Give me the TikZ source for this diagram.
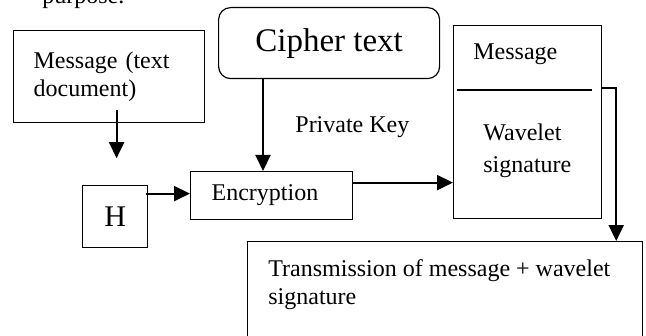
\documentclass[tikz,border=0pt]{standalone}
\usepackage{fontspec}
\setmainfont{Liberation Serif}
\usetikzlibrary{arrows.meta, positioning, calc}

\begin{document}
\begin{tikzpicture}[
    x=0.5pt, y=-0.5pt,
    font=\fontsize{12}{14}\selectfont,
    block/.style={rectangle, draw, line width=0.6pt, inner sep=0pt},
    line/.style={draw, line width=1pt, -{Triangle[length=8pt, width=7.5pt]}},
    txt/.style={inner sep=0pt, anchor=base west, align=left}
]
\useasboundingbox (0,0) rectangle (646,336);

% text above the figure
\node [txt] (purp) at (42,4) {purpose.};

% Message
\node [block, anchor=north west, minimum width=95.5pt, minimum height=46pt, text width=75.5pt, align=left] (msg) at (13,30) {Message (text\\document)};

% Cipher text
\node [block, rounded corners=6pt, anchor=north west, minimum width=110.5pt, minimum height=35.5pt, font=\fontsize{16.5}{19}\selectfont] (cipher) at (218,7) {Cipher text};
\node [txt] (key) at (295,133) {Private Key};

% H and Encryption
\node [block, anchor=north west, minimum width=32.5pt, minimum height=31pt, font=\fontsize{15}{18}\selectfont] (hash) at (82,185) {H};
\node [block, anchor=north west, minimum width=81pt, minimum height=24pt, text width=60pt, align=left] (enc) at (190,171) {Encryption};

% Message + signature
\node [block, anchor=north west, minimum width=74pt, minimum height=96.5pt] (sig) at (453,25) {};
\node [txt] (sigmsg) at (473,60) {Message};
\node [txt, font=\fontsize{12}{16}\selectfont] (wav) at (483,172) {Wavelet\\signature};
\draw [line width=1pt] ($(sig.north west)+(4,65)$) -- ($(sig.north east)+(-10,65)$);

% Transmission
\node [block, anchor=north west, minimum width=197.5pt, minimum height=53pt] (trans) at (247,241) {};
\node [txt] (transtxt) at (268,304) {Transmission of message + wavelet\\signature};

% Connections
\coordinate (keyx) at (263,0);
\draw [line] (cipher.south -| keyx) -- (enc.north -| keyx);
\draw [line] ($(msg.south)+(7.5,-13)$) -- ++(0,48);
\coordinate (hout) at ($(hash.east)+(-2,-23)$);
\draw [line] (hout) -- (hout -| enc.west);
\coordinate (encout) at ($(enc.east)+(0,-13)$);
\draw [line] (encout) -- (encout -| sig.west);
\coordinate (sigout) at ($(sig.north east)+(0,63)$);
\draw [line] (sigout) -- ++(14,0) coordinate (bend) -- (bend |- trans.north);

\end{tikzpicture}
\end{document}
